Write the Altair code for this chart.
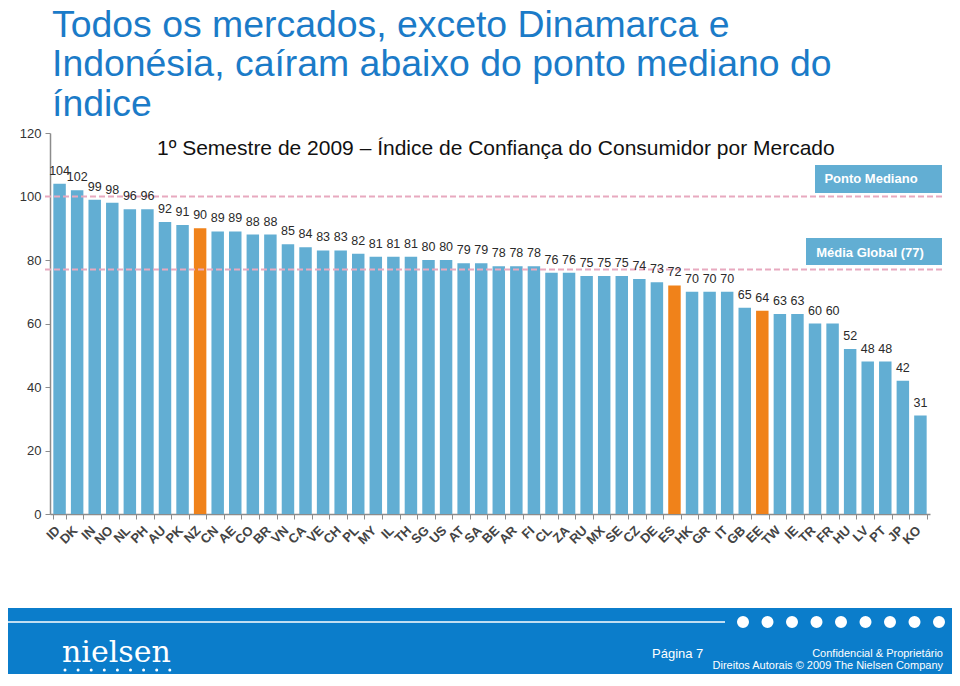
import altair as alt
import pandas as pd

# ---------------- data ----------------
mercados = ["ID", "DK", "IN", "NO", "NL", "PH", "AU", "PK", "NZ", "CN",
            "AE", "CO", "BR", "VN", "CA", "VE", "CH", "PL", "MY", "IL",
            "TH", "SG", "US", "AT", "SA", "BE", "AR", "FI", "CL", "ZA",
            "RU", "MX", "SE", "CZ", "DE", "ES", "HK", "GR", "IT", "GB",
            "EE", "TW", "IE", "TR", "FR", "HU", "LV", "PT", "JP", "KO"]
indice = [104, 102, 99, 98, 96, 96, 92, 91, 90, 89,
          89, 88, 88, 85, 84, 83, 83, 82, 81, 81,
          81, 80, 80, 79, 79, 78, 78, 78, 76, 76,
          75, 75, 75, 74, 73, 72, 70, 70, 70, 65,
          64, 63, 63, 60, 60, 52, 48, 48, 42, 31]
destaque = ["NZ", "ES", "EE"]
referencias = [100, 77]
referencias_rotulo = ["Ponto Mediano", "Média Global (77)"]
y_ticks = [0, 20, 40, 60, 80, 100, 120]

titulo = ["Todos os mercados, exceto Dinamarca e",
          "Indonésia, caíram abaixo do ponto mediano do",
          "índice"]
subtitulo = "1º Semestre de 2009 – Índice de Confiança do Consumidor por Mercado"
rodape_pagina = "Página 7"
rodape_1 = "Confidencial & Proprietário"
rodape_2 = "Direitos Autorais © 2009 The Nielsen Company"
logo = "nielsen"

# ---------------- chart ----------------
FONT = "Liberation Sans"
W, H = 880, 381
SVG_W, SVG_H = 944, 666
PAD = {"left": 42, "top": 125, "right": SVG_W - 42 - W, "bottom": SVG_H - 125 - H}
RIGHT = SVG_W - 42  # right edge of the drawing, in plot coordinates

df = pd.DataFrame({
    "mercado": mercados,
    "indice": indice,
    "grupo": ["destaque" if m in destaque else "normal" for m in mercados],
})
ref_df = pd.DataFrame({"valor": referencias, "rotulo": referencias_rotulo})

x_enc = alt.X(
    "mercado:N", sort=mercados,
    scale=alt.Scale(paddingInner=0.29, paddingOuter=0.19),
    axis=alt.Axis(title=None, labelAngle=315, labelAlign="right", labelBaseline="middle",
                  labelFontWeight="bold", labelFontSize=13, labelColor="#444444",
                  labelFont=FONT, tickBand="extent", tickSize=5, labelPadding=9,
                  labelOffset=-2,
                  domainColor="#8c8c8c", tickColor="#8c8c8c", domainWidth=1.5),
)
y_enc = alt.Y(
    "indice:Q",
    scale=alt.Scale(domain=[0, 120], nice=False),
    axis=alt.Axis(title=None, values=y_ticks, grid=False, tickSize=5, labelFontSize=13,
                  labelColor="#333333", labelFont=FONT, labelPadding=4,
                  domainColor="#8c8c8c", tickColor="#8c8c8c", domainWidth=1.5),
)

bars = alt.Chart(df).mark_bar().encode(
    x=x_enc, y=y_enc,
    color=alt.Color("grupo:N",
                    scale=alt.Scale(domain=["normal", "destaque"], range=["#62AED3", "#F0821A"]),
                    legend=None),
)

valores = alt.Chart(df).mark_text(baseline="alphabetic", dy=-9, fontSize=12.5,
                                  color="#2a2a2a", font=FONT).encode(
    x=alt.X("mercado:N", sort=mercados), y="indice:Q", text="indice:Q")

linhas = alt.Chart(ref_df).mark_rule(color="#E8A9BF", strokeDash=[6, 3], strokeWidth=1.8).encode(
    y="valor:Q", x=alt.value(-5), x2=alt.value(895))


def one(s):
    return alt.Chart(pd.DataFrame({"t": [s]}))


def texto(s, x, y, **kw):
    return one(s).mark_text(**kw).encode(x=alt.value(x), y=alt.value(y), text="t:N")


def caixa(x1, x2, y1, y2, color):
    return one("").mark_rect(color=color).encode(
        x=alt.value(x1), x2=alt.value(x2), y=alt.value(y1), y2=alt.value(y2))


def pontos(x1, x2, y, width, gap):
    return one("").mark_rule(color="white", strokeWidth=width, strokeCap="round",
                             strokeDash=[0.01, gap - 0.01]).encode(
        x=alt.value(x1), x2=alt.value(x2), y=alt.value(y))


layers = [bars, linhas, valores]

# reference boxes
layers.append(caixa(765, 892, 32, 60, "#62AED3"))
layers.append(texto(referencias_rotulo[0], 821, 50, align="center", baseline="alphabetic",
                    font=FONT, fontSize=13, fontWeight="bold", color="white"))
layers.append(caixa(756, 892, 105, 132, "#62AED3"))
layers.append(texto(referencias_rotulo[1], 820, 124, align="center", baseline="alphabetic",
                    font=FONT, fontSize=13, fontWeight="bold", color="white"))

# titles
for i, linha in enumerate(titulo):
    layers.append(texto(linha, 2, -96.5 + 39.7 * i, align="left", baseline="alphabetic",
                        font=FONT, fontSize=37.4, color="#1B7BC8"))
layers.append(texto(subtitulo, 107, 22, align="left", baseline="alphabetic",
                    font=FONT, fontSize=21, color="#111111"))

# footer
layers.append(caixa(-42, RIGHT, 475, SVG_H - 125, "#0B7DCB"))
layers.append(one("").mark_rule(color="white", strokeWidth=1.5).encode(
    x=alt.value(-42), x2=alt.value(675), y=alt.value(489)))
layers.append(pontos(693, 890, 489, 12, 24.5))
layers.append(texto(logo, 12, 529, align="left", baseline="alphabetic",
                    font="DejaVu Serif", fontSize=30, color="white"))
layers.append(pontos(15, 121, 537, 3, 13.1))
layers.append(texto(rodape_pagina, 602, 525, align="left", baseline="alphabetic",
                    font=FONT, fontSize=13, color="white"))
layers.append(texto(rodape_1, 893, 524, align="right", baseline="alphabetic",
                    font=FONT, fontSize=11, color="white"))
layers.append(texto(rodape_2, 893, 536, align="right", baseline="alphabetic",
                    font=FONT, fontSize=11, color="white"))

chart = alt.layer(*layers).properties(
    width=W, height=H,
    autosize=alt.AutoSizeParams(type="none"),
    padding=PAD,
    background="white",
).configure_view(stroke=None)

chart.save("out.html", embed_options={"renderer": "svg", "actions": False})
